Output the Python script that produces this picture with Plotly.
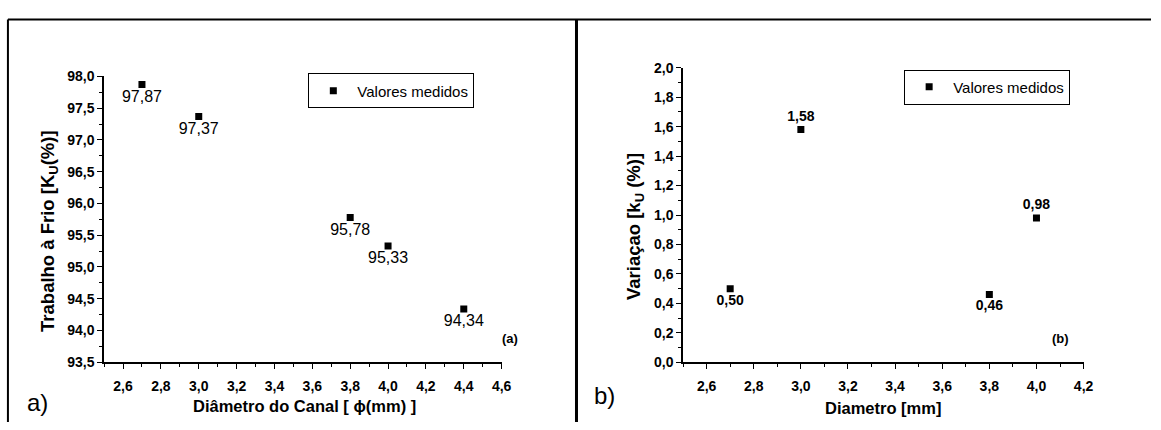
import plotly.graph_objects as go

# Panel (a): cold work vs channel diameter
diam_a = [2.7, 3.0, 3.8, 4.0, 4.4]
trabalho = [97.87, 97.37, 95.78, 95.33, 94.34]
labels_a = ["97,87", "97,37", "95,78", "95,33", "94,34"]

# Panel (b): variation vs diameter
diam_b = [2.7, 3.0, 3.8, 4.0]
variacao = [0.50, 1.58, 0.46, 0.98]
labels_b = ["0,50", "1,58", "0,46", "0,98"]
pos_b = ["bottom center", "top center", "bottom center", "top center"]

W, H = 1161, 430
FONT = "Arial"


def px(x):
    return x / W


def py(y):
    return 1 - y / H


fig = go.Figure()

fig.add_trace(go.Scatter(
    x=diam_a, y=trabalho, mode="markers+text", name="Valores medidos",
    marker=dict(symbol="square", size=7, color="black"),
    text=labels_a, textposition="bottom center",
    textfont=dict(family=FONT, size=16, color="black"),
    xaxis="x", yaxis="y", legend="legend", showlegend=True,
))

fig.add_trace(go.Scatter(
    x=diam_b, y=variacao, mode="markers+text", name="Valores medidos",
    marker=dict(symbol="square", size=7, color="black"),
    text=labels_b, textposition=pos_b,
    textfont=dict(family=FONT, size=14, color="black", weight=700),
    xaxis="x2", yaxis="y2", legend="legend2", showlegend=True,
))

axis_common = dict(
    showline=True, linecolor="black", linewidth=1.5,
    ticks="outside", ticklen=5, tickwidth=1.2, tickcolor="black",
    showgrid=False, zeroline=False, tickformat=".1f",
    tickfont=dict(family=FONT, size=14, color="black", weight=700),
    minor=dict(ticks="outside", ticklen=3, tickwidth=1, tickcolor="black", showgrid=False),
)

legend_common = dict(
    xanchor="left", yanchor="top", bordercolor="black", borderwidth=1,
    bgcolor="white", itemwidth=38,
    font=dict(family=FONT, size=15, color="black"),
)

fig.update_layout(
    width=W, height=H,
    margin=dict(l=0, r=0, t=0, b=0),
    paper_bgcolor="white", plot_bgcolor="white",
    separators=",.",
    showlegend=True,
    font=dict(family=FONT, color="black"),
    xaxis=dict(domain=[px(105), px(506)], range=[2.5, 4.6], tick0=2.6, dtick=0.2,
               anchor="y", ticklabelstandoff=5, **axis_common),
    yaxis=dict(domain=[py(368), py(71)], range=[93.5, 98.0], tick0=93.5, dtick=0.5,
               anchor="x", **axis_common),
    xaxis2=dict(domain=[px(689), px(1093)], range=[2.5, 4.2], tick0=2.6, dtick=0.2,
                anchor="y2", ticklabelstandoff=5, **axis_common),
    yaxis2=dict(domain=[py(368), py(62)], range=[0, 2.0], tick0=0, dtick=0.2,
                anchor="x2", **axis_common),
    legend=dict(x=px(311), y=py(68), **legend_common),
    legend2=dict(x=px(912), y=py(64), **legend_common),
)
fig.update_xaxes(minor_dtick=0.1)
fig.update_layout(yaxis_minor_dtick=0.25, yaxis2_minor_dtick=0.1)

ann = [
    # axis titles
    dict(x=px(307), y=py(413), text="Diâmetro do Canal [ ϕ(mm) ]",
         font=dict(size=16.5, weight=700)),
    dict(x=px(50), y=py(232), text="Trabalho à Frio [K<sub>U</sub>(%)]", textangle=-90,
         font=dict(size=18.5, weight=700)),
    dict(x=px(891), y=py(415), text="Diametro [mm]", font=dict(size=16.5, weight=700)),
    dict(x=px(640), y=py(227), text="Variaçao [k<sub>U</sub> (%)]", textangle=-90,
         font=dict(size=18.5, weight=700)),
    # panel tags
    dict(x=px(514), y=py(343), text="(a)", font=dict(size=13, weight=700)),
    dict(x=px(1070), y=py(343), text="(b)", font=dict(size=13, weight=700)),
    dict(x=px(38), y=py(410), text="a)", font=dict(size=24)),
    dict(x=px(610), y=py(402), text="b)", font=dict(size=24)),
]
for a in ann:
    a.update(xref="paper", yref="paper", showarrow=False, xanchor="center", yanchor="middle")
    a["font"] = dict(family=FONT, color="black", **a["font"])
fig.update_layout(annotations=ann)

# outer frame lines
fig.update_layout(shapes=[
    dict(type="line", xref="paper", yref="paper", x0=px(8), x1=1, y0=py(12), y1=py(12),
         line=dict(color="black", width=2)),
    dict(type="line", xref="paper", yref="paper", x0=px(8), x1=px(8), y0=py(12), y1=0,
         line=dict(color="black", width=2)),
    dict(type="line", xref="paper", yref="paper", x0=px(581.5), x1=px(581.5), y0=py(12), y1=0,
         line=dict(color="black", width=3)),
])

fig.write_html("out.html")
